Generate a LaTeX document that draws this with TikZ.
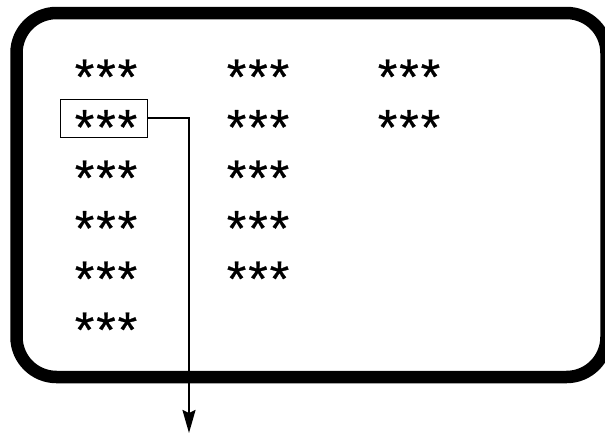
\documentclass[tikz,border=0pt]{standalone}
\usepackage{fontspec}
\setmainfont{Liberation Sans}
\newfontfamily\starfont[FakeBold=0.5,LetterSpace=4]{Liberation Sans}
\usetikzlibrary{arrows.meta}
\begin{document}
\begin{tikzpicture}[x=1pt,y=-1pt,
  stars/.style={inner sep=0pt,anchor=base,font=\starfont\fontsize{50}{50}\selectfont},
  frame/.style={line width=12.5pt,rounded corners=40pt},
  selbox/.style={draw,line width=1pt,minimum width=87pt,minimum height=38pt,inner sep=0pt},
  link/.style={line width=2pt,-{Stealth[length=23pt,width=13pt,inset=3pt]}}]
\useasboundingbox (0,0) rectangle (605,434);
\draw[frame] (16.5,13) rectangle (606.5,377);
% column 1
\node[stars] (a1) at (106,94) {***};
\node[stars] (a2) at (106,144.5) {***};
\node[stars] (a3) at (106,195) {***};
\node[stars] (a4) at (106,245.5) {***};
\node[stars] (a5) at (106,296) {***};
\node[stars] (a6) at (106,347) {***};
% column 2
\node[stars] (b1) at (258,94) {***};
\node[stars] (b2) at (258,144.5) {***};
\node[stars] (b3) at (258,195) {***};
\node[stars] (b4) at (258,245.5) {***};
\node[stars] (b5) at (258,296) {***};
% column 3
\node[stars] (c1) at (409,94) {***};
\node[stars] (c2) at (409,144.5) {***};
% selection box and arrow
\node[selbox] (sel) at (103.5,118) {};
\coordinate (out) at (189,433);
\draw[link] (sel.east) -| (out);
\end{tikzpicture}
\end{document}
